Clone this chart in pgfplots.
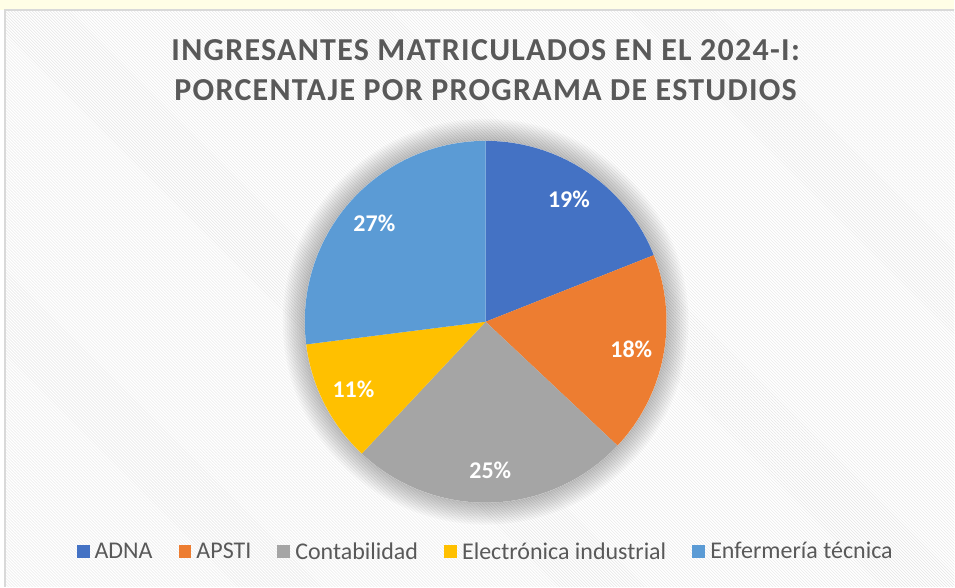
\documentclass[border=0pt]{standalone}
\usepackage{fontspec}
\setmainfont{Carlito}
\newfontfamily\titlefont[LetterSpace=4]{Carlito}
\usepackage{pgfplots}
\pgfplotsset{compat=1.18}
\usetikzlibrary{patterns}
\definecolor{cA}{HTML}{4472C4}
\definecolor{cB}{HTML}{ED7D31}
\definecolor{cC}{HTML}{A5A5A5}
\definecolor{cD}{HTML}{FFC000}
\definecolor{cE}{HTML}{5B9BD5}
\definecolor{txt}{HTML}{595959}
\begin{document}
\begin{tikzpicture}[x=1pt,y=1pt]
% background
\fill[white] (0,0) rectangle (955,587);
\fill[yellow!10] (0,577) rectangle (955,587);
\fill[pattern=north west lines, pattern color=black!10] (5,0) rectangle (955,577);
\draw[black!15, line width=1.5pt] (5,0) -- (5,577) -- (955,577);
% title
\node[font=\titlefont\bfseries\fontsize{32}{40}\selectfont, text=txt, align=center] at (486,517)
  {INGRESANTES MATRICULADOS EN EL 2024-I:\\PORCENTAJE POR PROGRAMA DE ESTUDIOS};
% soft shadow
\foreach \r in {2,4,...,22} {\fill[black, opacity=0.022] (486,265) circle (181+\r);}
\fill[white] (486,265) circle (181);
\pgfmathsetmacro{\pA}{19}
\pgfmathsetmacro{\pB}{18}
\pgfmathsetmacro{\pC}{25}
\pgfmathsetmacro{\pD}{11}
\pgfmathsetmacro{\pE}{27}
\pgfmathsetmacro{\aA}{90}
\pgfmathsetmacro{\aB}{\aA-3.6*\pA}
\pgfmathsetmacro{\aC}{\aB-3.6*\pB}
\pgfmathsetmacro{\aD}{\aC-3.6*\pC}
\pgfmathsetmacro{\aE}{\aD-3.6*\pD}
\pgfmathsetmacro{\aF}{\aE-3.6*\pE}
\begin{axis}[
  at={(486pt,265pt)}, anchor=origin,
  x=181pt, y=181pt, scale only axis,
  xmin=-1, xmax=1, ymin=-1, ymax=1,
  hide axis, clip=false,
  legend columns=5,
  legend style={draw=none, fill=none, at={(0.5,-0.135)}, anchor=center,
    font=\fontsize{24}{28}\selectfont, text=txt,
    /tikz/every even column/.append style={column sep=24pt},
    /tikz/every odd column/.append style={column sep=3pt}},
  legend image code/.code={\path[#1] (0pt,-6.5pt) rectangle (13pt,6.5pt);},
]
\addplot[fill=cA, draw=none, domain=\aB:\aA, samples=80, variable=\t] ({cos(\t)},{sin(\t)}) -- (axis cs:0,0) -- cycle;
\addlegendentry{ADNA}
\addplot[fill=cB, draw=none, domain=\aC:\aB, samples=80, variable=\t] ({cos(\t)},{sin(\t)}) -- (axis cs:0,0) -- cycle;
\addlegendentry{APSTI}
\addplot[fill=cC, draw=none, domain=\aD:\aC, samples=80, variable=\t] ({cos(\t)},{sin(\t)}) -- (axis cs:0,0) -- cycle;
\addlegendentry{Contabilidad}
\addplot[fill=cD, draw=none, domain=\aE:\aD, samples=80, variable=\t] ({cos(\t)},{sin(\t)}) -- (axis cs:0,0) -- cycle;
\addlegendentry{Electrónica industrial}
\addplot[fill=cE, draw=none, domain=\aF:\aE, samples=80, variable=\t] ({cos(\t)},{sin(\t)}) -- (axis cs:0,0) -- cycle;
\addlegendentry{Enfermería técnica}
\foreach \s/\e/\p in {\aA/\aB/19,\aB/\aC/18,\aC/\aD/25,\aD/\aE/11,\aE/\aF/27} {
  \pgfmathsetmacro{\m}{(\s+\e)/2}
  \edef\tmp{\noexpand\node[font=\noexpand\bfseries\noexpand\fontsize{24}{28}\noexpand\selectfont, text=white] at (axis cs:{0.82*cos(\m)},{0.82*sin(\m)}) {\p\noexpand\%};}
  \tmp
}
\end{axis}
\end{tikzpicture}
\end{document}
